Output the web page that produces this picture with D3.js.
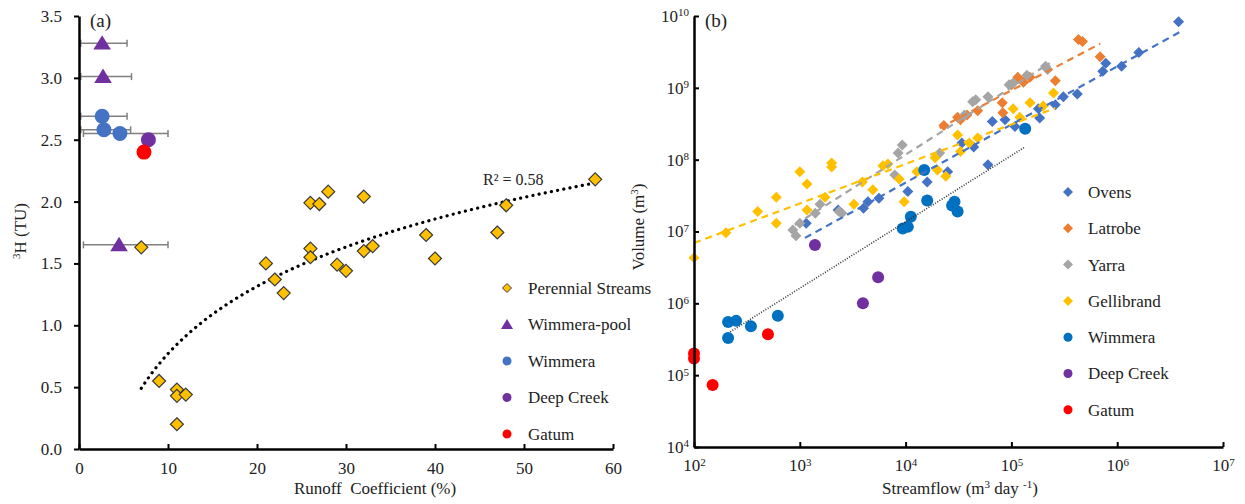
<!DOCTYPE html>
<html lang="en">
<head>
<meta charset="UTF-8">
<script src="https://d3js.org/d3.v7.min.js"></script>
<style>
  body { margin: 0; background: #fff; }
  svg text { font-family: "Liberation Serif", "DejaVu Serif", serif !important; fill: #222; }
</style>
</head>
<body>
<svg id="chart" width="1245" height="504" style="font-family: 'Liberation Serif', serif"></svg>
<script>
// ---------- panel (a): 3H vs runoff coefficient ----------
const perennial = [[7,1.63],[9,0.55],[11,0.48],[11,0.43],[11,0.20],[12,0.44],[21,1.50],[22,1.37],[23,1.26],
  [26,1.99],[26,1.62],[26,1.55],[27,1.98],[28,2.08],[29,1.49],[30,1.44],[32,2.04],[32,1.60],[33,1.64],
  [39,1.73],[40,1.54],[47,1.75],[48,1.97],[58,2.18]];
// x, y, error bar low / high
const wimmeraPool = [[2.6,3.28,0.2,5.4],[2.7,3.01,0.2,5.9],[4.5,1.65,0.5,10.0]];
const wimmeraA = [[2.6,2.69,0.2,5.4],[2.8,2.58,0.2,5.8],[4.6,2.55,0.5,10.0]];
const deepCreekA = [[7.8,2.50]];
const gatumA = [[7.3,2.40]];
// log fit: y = k*ln(x) + c
const trendA = { k: 0.785, c: -1.037, from: 7, to: 58 };
const r2Label = "R² = 0.58";
const yTicksA = [0,0.5,1,1.5,2,2.5,3,3.5];
const xTicksA = [0,10,20,30,40,50,60];
const legendA = ["Perennial Streams","Wimmera-pool","Wimmera","Deep Creek","Gatum"];

// ---------- panel (b): volume vs streamflow ----------
const ovens = [[1150,1.3e7],[2300,2.0e7],[4000,2.1e7],[4400,2.6e7],[5600,2.9e7],[1.05e4,3.6e7],[1.6e4,4.9e7],
  [2.5e4,6.8e7],[3.4e4,1.7e8],[4.4e4,1.5e8],[6.0e4,8.5e7],[6.6e4,3.4e8],[8.7e4,3.6e8],[1.08e5,2.9e8],
  [1.8e5,5.1e8],[1.85e5,3.8e8],[2.6e5,5.8e8],[3.1e5,7.5e8],[4.2e5,8.2e8],[7.3e5,1.7e9],[7.8e5,2.2e9],
  [1.1e6,2.0e9],[1.6e6,3.1e9],[3.8e6,8.3e9]];
const latrobe = [[2.3e4,3.0e8],[3.1e4,3.9e8],[3.3e4,3.6e8],[3.8e4,4.2e8],[4.8e4,4.8e8],[8.2e4,6.2e8],
  [8.3e4,4.5e8],[1.0e5,1.1e9],[1.15e5,1.4e9],[1.3e5,1.2e9],[1.5e5,1.4e9],[2.6e5,1.25e9],[4.3e5,4.7e9],
  [4.7e5,4.4e9],[6.9e5,2.7e9]];
const yarra = [[860,1.05e7],[920,8.7e6],[1000,1.3e7],[1400,1.8e7],[1550,2.4e7],[2350,1.9e7],[2500,1.8e7],
  [7900,6.1e7],[8500,1.24e8],[9300,1.6e8],[2.1e4,1.24e8],[3.6e4,4.2e8],[4.3e4,6.4e8],[4.6e4,6.8e8],
  [6.0e4,7.5e8],[9.5e4,1.1e9],[1.04e5,1.17e9],[1.4e5,1.5e9],[2.1e5,2.0e9],[2.2e5,1.8e9]];
const gellibrand = [[100,4.3e6],[200,9.6e6],[400,1.9e7],[600,3.0e7],[600,1.3e7],[1000,6.8e7],[1170,4.6e7],
  [1170,2.0e7],[1730,3.0e7],[2000,9.0e7],[2000,7.9e7],[3250,2.4e7],[3900,4.9e7],[4900,3.8e7],[6100,8.2e7],
  [6800,8.7e7],[8700,5.4e7],[9700,2.6e7],[1.28e4,6.8e7],[1.9e4,1.06e8],[2.0e4,7.2e7],[2.4e4,5.9e7],
  [3.1e4,2.2e8],[3.3e4,1.3e8],[4.0e4,1.7e8],[4.8e4,2.0e8],[1.04e5,5.1e8],[1.2e5,3.9e8],[1.5e5,6.2e8],
  [2.0e5,5.6e8],[2.5e5,8.5e8]];
const wimmeraB = [[210,5.5e5],[250,5.7e5],[210,3.3e5],[345,4.8e5],[620,6.7e5],[9400,1.1e7],[1.05e4,1.16e7],
  [1.12e4,1.6e7],[1.5e4,7.2e7],[1.6e4,2.7e7],[2.75e4,2.3e7],[2.9e4,2.6e7],[3.1e4,1.9e7],[1.35e5,2.7e8]];
const deepCreekB = [[1390,6.5e6],[3950,1.0e6],[5500,2.3e6]];
const gatumB = [[100,2.0e5],[100,1.7e5],[150,7.3e4],[500,3.7e5]];
// power fits: log10(V) = a + b*log10(Q)
const trendsB = [
  { name: "Ovens", a: 4.444, b: 0.809, from: 1120, to: 3.9e6 },
  { name: "Latrobe", a: 5.095, b: 0.774, from: 2.1e4, to: 6.9e5 },
  { name: "Yarra", a: 4.326, b: 0.936, from: 900, to: 2.3e5 },
  { name: "Gellibrand", a: 5.74, b: 0.55, from: 100, to: 2.6e5 },
  { name: "Wimmera", a: 3.438, b: 0.924, from: 220, to: 1.35e5 }
];
const xTicksB = [1e2,1e3,1e4,1e5,1e6,1e7];
const yTicksB = [1e4,1e5,1e6,1e7,1e8,1e9,1e10];

const colors = {
  "Perennial Streams": "#FFC000", "Wimmera-pool": "#7030A0", "Deep Creek": "#7030A0", "Gatum": "#FF0000",
  "WimmeraA": "#4472C4", "Ovens": "#4472C4", "Latrobe": "#ED7D31", "Yarra": "#A5A5A5",
  "Gellibrand": "#FFC000", "Wimmera": "#0070C0"
};
const serif = "'Liberation Serif', 'Times New Roman', serif";

const svg = d3.select("#chart");
svg.append("rect").attr("width", 1245).attr("height", 504).attr("fill", "#fff");

const diamond = r => `M0,${-r}L${r},0L0,${r}L${-r},0Z`;
const triangle = r => `M0,${-r}L${r * 1.1},${r * 0.8}L${-r * 1.1},${r * 0.8}Z`;

function styleAxis(g) {
  g.attr("font-family", serif);
  g.select(".domain").attr("stroke", "#000").attr("stroke-width", 2.5);
  g.selectAll(".tick line").attr("stroke", "#000").attr("stroke-width", 2);
  g.selectAll(".tick text").style("font-size", "17px").style("font-family", serif).attr("fill", "#333");
}

// ===== panel (a) =====
const xA = d3.scaleLinear().domain([0, 60]).range([79, 613]);
const yA = d3.scaleLinear().domain([0, 3.5]).range([449, 16]);

// trend line (dotted)
const trendPts = d3.range(trendA.from, trendA.to + 0.01, 0.5).map(x => [x, trendA.k * Math.log(x) + trendA.c]);
svg.append("path")
  .attr("d", d3.line().x(d => xA(d[0])).y(d => yA(d[1]))(trendPts))
  .attr("fill", "none").attr("stroke", "#000").attr("stroke-width", 3.2)
  .attr("stroke-linecap", "round").attr("stroke-dasharray", "0.1 6.2");

svg.append("text").attr("x", 483).attr("y", 185).style("font-size", "16px").style("font-family", serif).text(r2Label);

// error bars
const errRows = wimmeraPool.concat(wimmeraA);
const eb = svg.append("g").attr("stroke", "#808080").attr("stroke-width", 1.5);
errRows.forEach(d => {
  eb.append("line").attr("x1", xA(d[2])).attr("x2", xA(d[3])).attr("y1", yA(d[1])).attr("y2", yA(d[1]));
  [d[2], d[3]].forEach(v => eb.append("line").attr("x1", xA(v)).attr("x2", xA(v))
    .attr("y1", yA(d[1]) - 3.5).attr("y2", yA(d[1]) + 3.5));
});

svg.append("g").selectAll("path").data(perennial).join("path")
  .attr("d", diamond(6.5)).attr("transform", d => `translate(${xA(d[0])},${yA(d[1])})`)
  .attr("fill", colors["Perennial Streams"]).attr("stroke", "#3a3a3a").attr("stroke-width", 1.2);
svg.append("g").selectAll("path").data(wimmeraPool).join("path")
  .attr("d", triangle(8)).attr("transform", d => `translate(${xA(d[0])},${yA(d[1])})`)
  .attr("fill", colors["Wimmera-pool"]);
svg.append("g").selectAll("circle").data(wimmeraA).join("circle")
  .attr("cx", d => xA(d[0])).attr("cy", d => yA(d[1])).attr("r", 7.5).attr("fill", colors["WimmeraA"]);
svg.append("g").selectAll("circle").data(deepCreekA).join("circle")
  .attr("cx", d => xA(d[0])).attr("cy", d => yA(d[1])).attr("r", 7.5).attr("fill", colors["Deep Creek"]);
svg.append("g").selectAll("circle").data(gatumA).join("circle")
  .attr("cx", d => xA(d[0])).attr("cy", d => yA(d[1])).attr("r", 7.5).attr("fill", colors["Gatum"]);

svg.append("g").attr("transform", "translate(79,0)")
  .call(d3.axisLeft(yA).tickValues(yTicksA).tickFormat(d3.format(".1f")).tickSize(5).tickSizeOuter(0).tickPadding(12))
  .call(styleAxis);
svg.append("g").attr("transform", "translate(0,449)")
  .call(d3.axisBottom(xA).tickValues(xTicksA).tickFormat(d3.format("d")).tickSizeInner(-5).tickSizeOuter(0).tickPadding(13))
  .call(styleAxis);

svg.append("text").attr("x", 90).attr("y", 27).style("font-size", "19px").style("font-family", serif).text("(a)");

const ylabA = svg.append("text").attr("transform", "translate(26,231) rotate(-90)")
  .attr("text-anchor", "middle").style("font-size", "17px").style("font-family", serif);
ylabA.append("tspan").attr("baseline-shift", "super").style("font-size", "11px").text("3");
ylabA.append("tspan").text("H (TU)");
svg.append("text").attr("x", 375).attr("y", 494).attr("text-anchor", "middle")
  .style("font-size", "17px").style("font-family", serif).attr("xml:space", "preserve").text("Runoff  Coefficient (%)");

// legend (a)
const legA = svg.append("g");
legendA.forEach((name, i) => {
  const y = 288 + i * 36.5;
  const g = legA.append("g").attr("transform", `translate(507,${y})`);
  if (i === 0) g.append("path").attr("d", diamond(4.5)).attr("fill", colors[name]).attr("stroke", "#3a3a3a").attr("stroke-width", 1);
  else if (i === 1) g.append("path").attr("d", triangle(5.5)).attr("fill", colors[name]);
  else g.append("circle").attr("r", 4.5).attr("fill", i === 2 ? colors["WimmeraA"] : colors[name]);
  legA.append("text").attr("x", 528).attr("y", y).attr("dy", "0.35em")
    .style("font-size", "17px").style("font-family", serif).text(name);
});

// ===== panel (b) =====
const xB = d3.scaleLog().domain([1e2, 1e7]).range([694, 1223]);
const yB = d3.scaleLog().domain([1e4, 1e10]).range([447, 16]);

const seriesB = [
  { name: "Ovens", data: ovens, shape: "d" },
  { name: "Latrobe", data: latrobe, shape: "d" },
  { name: "Yarra", data: yarra, shape: "d" },
  { name: "Gellibrand", data: gellibrand, shape: "d" },
  { name: "Wimmera", data: wimmeraB, shape: "c" },
  { name: "Deep Creek", data: deepCreekB, shape: "c" },
  { name: "Gatum", data: gatumB, shape: "c" }
];

seriesB.forEach(s => {
  const g = svg.append("g").attr("fill", colors[s.name]);
  if (s.shape === "d") {
    g.selectAll("path").data(s.data).join("path").attr("d", diamond(5.5))
      .attr("transform", d => `translate(${xB(d[0])},${yB(d[1])})`);
  } else {
    g.selectAll("circle").data(s.data).join("circle")
      .attr("cx", d => xB(d[0])).attr("cy", d => yB(d[1])).attr("r", 6);
  }
});

trendsB.forEach(t => {
  const f = q => Math.pow(10, t.a + t.b * Math.log10(q));
  const dotted = t.name === "Wimmera";
  svg.append("line")
    .attr("x1", xB(t.from)).attr("y1", yB(f(t.from)))
    .attr("x2", xB(t.to)).attr("y2", yB(f(t.to)))
    .attr("stroke", dotted ? "#333" : colors[t.name])
    .attr("stroke-width", dotted ? 1.6 : 2.2)
    .attr("stroke-dasharray", dotted ? "1 1.6" : "7 5");
});

const supTicks = (g) => {
  g.selectAll(".tick text").each(function(d) {
    const t = d3.select(this).text("10");
    t.append("tspan").attr("dy", "-0.5em").style("font-size", "11px").text(Math.round(Math.log10(d)));
  });
};

svg.append("g").attr("transform", "translate(694,0)")
  .call(d3.axisLeft(yB).tickValues(yTicksB).tickSizeInner(-5).tickSizeOuter(0).tickPadding(5))
  .call(styleAxis).call(supTicks);
svg.append("g").attr("transform", "translate(0,447)")
  .call(d3.axisBottom(xB).tickValues(xTicksB).tickSizeInner(-5).tickSizeOuter(0).tickPadding(12))
  .call(styleAxis).call(supTicks);

svg.append("text").attr("x", 705).attr("y", 27).style("font-size", "19px").style("font-family", serif).text("(b)");

const ylabB = svg.append("text").attr("transform", "translate(644,227) rotate(-90)")
  .attr("text-anchor", "middle").style("font-size", "17px").style("font-family", serif);
ylabB.append("tspan").text("Volume (m");
ylabB.append("tspan").attr("baseline-shift", "super").style("font-size", "11px").text("3");
ylabB.append("tspan").text(")");

const xlabB = svg.append("text").attr("x", 960).attr("y", 494).attr("text-anchor", "middle")
  .style("font-size", "17px").style("font-family", serif);
xlabB.append("tspan").text("Streamflow (m");
xlabB.append("tspan").attr("baseline-shift", "super").style("font-size", "11px").text("3");
xlabB.append("tspan").text(" day ");
xlabB.append("tspan").attr("baseline-shift", "super").style("font-size", "11px").text("-1");
xlabB.append("tspan").text(")");

// legend (b)
seriesB.forEach((s, i) => {
  const y = 192 + i * 36.3;
  const g = svg.append("g").attr("transform", `translate(1068,${y})`).attr("fill", colors[s.name]);
  if (s.shape === "d") g.append("path").attr("d", diamond(5));
  else g.append("circle").attr("r", 4.5);
  svg.append("text").attr("x", 1088).attr("y", y).attr("dy", "0.35em")
    .style("font-size", "17px").style("font-family", serif).text(s.name);
});
</script>
</body>
</html>
